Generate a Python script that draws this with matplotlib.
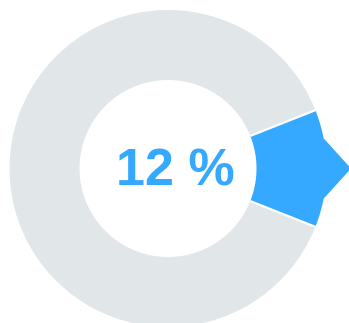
import numpy as np
import matplotlib
matplotlib.use("Agg")
import matplotlib.pyplot as plt
from matplotlib.patches import Wedge, Polygon

# progress donut: share done vs remaining
segments = ["done", "remaining"]
values = [12, 88]
label = "12 %"

BLUE = "#35a8ff"
GREY = "#e1e6e9"

W, H = 349, 323
CX, CY = 168, 168.5
R_OUT = 158.5
R_IN = 88.5
R_TIP = 183
SHOULDER = 11.0  # degrees either side of the tip


def pt(r, deg):
    a = np.radians(deg)
    return (CX + r * np.cos(a), CY - r * np.sin(a))


fig = plt.figure(figsize=(W / 100, H / 100), dpi=100)
ax = fig.add_axes([0, 0, 1, 1])
ax.set_xlim(0, W)
ax.set_ylim(H, 0)
ax.set_aspect("equal")
ax.axis("off")

half = 360.0 * values[0] / sum(values) / 2

# remaining part of the ring (y axis is flipped, so angles go clockwise)
ax.add_patch(Wedge((CX, CY), R_OUT, half, 360 - half, width=R_OUT - R_IN,
                   facecolor=GREY, edgecolor="none"))

# highlighted slice with a pointer on its outer edge
verts = []
for d in np.linspace(half, SHOULDER, 20):
    verts.append(pt(R_OUT, d))
verts.append(pt(R_TIP, 0))
for d in np.linspace(-SHOULDER, -half, 20):
    verts.append(pt(R_OUT, d))
for d in np.linspace(-half, half, 40):
    verts.append(pt(R_IN, d))
ax.add_patch(Polygon(verts, closed=True, facecolor=BLUE, edgecolor="none"))

# thin white separators between the slice and the ring
for d in (half, -half):
    p0, p1 = pt(R_IN, d), pt(R_OUT + 1, d)
    ax.plot([p0[0], p1[0]], [p0[1], p1[1]], color="white", lw=1.6,
            solid_capstyle="butt")

ax.text(CX + 7, CY + 3, label, ha="center", va="center", color=BLUE,
        fontsize=37.5, fontweight="bold", family=["Liberation Sans", "DejaVu Sans"])

fig.savefig("out.png", dpi=100)
